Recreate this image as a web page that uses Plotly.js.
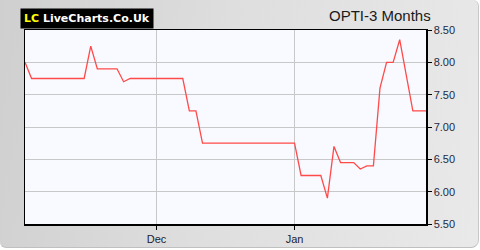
<!DOCTYPE html>
<html>
<head>
<meta charset="utf-8">
<script src="https://cdn.plot.ly/plotly-3.0.1.min.js"></script>
<style>
  html, body { margin: 0; padding: 0; background: #ffffff; }
  #wrap { position: absolute; left: 0; top: 0; width: 478px; height: 247px;
          border-radius: 0 6px 8px 6px;
          background: linear-gradient(100deg, #cfcfcf 0%, #dedede 45%, #e9e9e9 100%);
          border-right: 1px solid #c8c8c8; border-bottom: 1px solid #c0c0c0; }
  #chart { position: absolute; left: 0; top: 0; width: 480px; height: 250px; }
</style>
</head>
<body>
<div id="wrap"></div>
<div id="chart"></div>
<script>
// Trading-day index (0 = first day shown) and closing price
const dayIndex = [0,1,2,3,4,5,6,7,8,9,10,11,12,13,14,15,16,17,18,19,20,21,22,23,24,25,26,27,28,29,30,31,32,33,34,35,36,37,38,39,40,41,42,43,44,45,46,47,48,49,50,51,52,53,54,55,56,57,58,59,60,61];
const price = [8.00,7.75,7.75,7.75,7.75,7.75,7.75,7.75,7.75,7.75,8.25,7.90,7.90,7.90,7.90,7.70,7.75,7.75,7.75,7.75,7.75,7.75,7.75,7.75,7.75,7.25,7.25,6.75,6.75,6.75,6.75,6.75,6.75,6.75,6.75,6.75,6.75,6.75,6.75,6.75,6.75,6.75,6.25,6.25,6.25,6.25,5.90,6.70,6.45,6.45,6.45,6.35,6.40,6.40,7.60,8.00,8.00,8.35,7.80,7.25,7.25,7.25];
const monthTickPos = [20, 41];
const monthTickText = ['Dec', 'Jan'];
const yTicks = [5.5, 6.0, 6.5, 7.0, 7.5, 8.0, 8.5];
const chartTitle = 'OPTI-3 Months';

const trace = {
  x: dayIndex, y: price, type: 'scatter', mode: 'lines',
  line: { color: '#ff4a4a', width: 1.3 }, hoverinfo: 'skip'
};

const layout = {
  width: 480, height: 250,
  margin: { l: 25, r: 54, t: 30, b: 26 },
  paper_bgcolor: 'rgba(0,0,0,0)',
  plot_bgcolor: '#f8faff',
  showlegend: false,
  font: { family: 'Liberation Sans, Arial, sans-serif', size: 11, color: '#1c2230' },
  xaxis: {
    range: [0, 61], tickmode: 'array', tickvals: monthTickPos, ticktext: monthTickText,
    ticks: 'outside', ticklen: 4, tickcolor: '#000', tickwidth: 1,
    showgrid: true, gridcolor: '#c8c8c8', gridwidth: 1,
    showline: true, linecolor: '#000', linewidth: 1.5, mirror: true,
    zeroline: false, fixedrange: true,
    tickfont: { size: 11, color: '#1c2230' }
  },
  yaxis: {
    range: [5.5, 8.5], side: 'right', tickmode: 'array', tickvals: yTicks,
    ticktext: yTicks.map(v => v.toFixed(2)),
    ticks: 'outside', ticklen: 4, tickcolor: '#000', tickwidth: 1,
    showgrid: true, gridcolor: '#c8c8c8', gridwidth: 1,
    showline: true, linecolor: '#000', linewidth: 1.5, mirror: true,
    zeroline: false, fixedrange: true,
    tickfont: { size: 11, color: '#1c2a44' }
  },
  annotations: [
    {
      xref: 'paper', yref: 'paper', x: -0.0125, y: 1.0, yanchor: 'bottom', xanchor: 'left',
      yshift: 1,
      text: '<b><span style="color:#ffff00">LC</span> LiveCharts.Co.Uk</b>',
      showarrow: false, bgcolor: '#000000', borderpad: 3,
      font: { family: 'DejaVu Sans, Verdana, sans-serif', size: 11, color: '#ffffff' }
    },
    {
      xref: 'paper', yref: 'paper', x: 1.017, y: 1.0, yanchor: 'bottom', xanchor: 'right',
      yshift: 4,
      text: chartTitle, showarrow: false,
      font: { family: 'Liberation Sans, Arial, sans-serif', size: 15, color: '#1a1a1a' }
    }
  ]
};

Plotly.newPlot('chart', [trace], layout, { staticPlot: true, displayModeBar: false });
</script>
</body>
</html>
